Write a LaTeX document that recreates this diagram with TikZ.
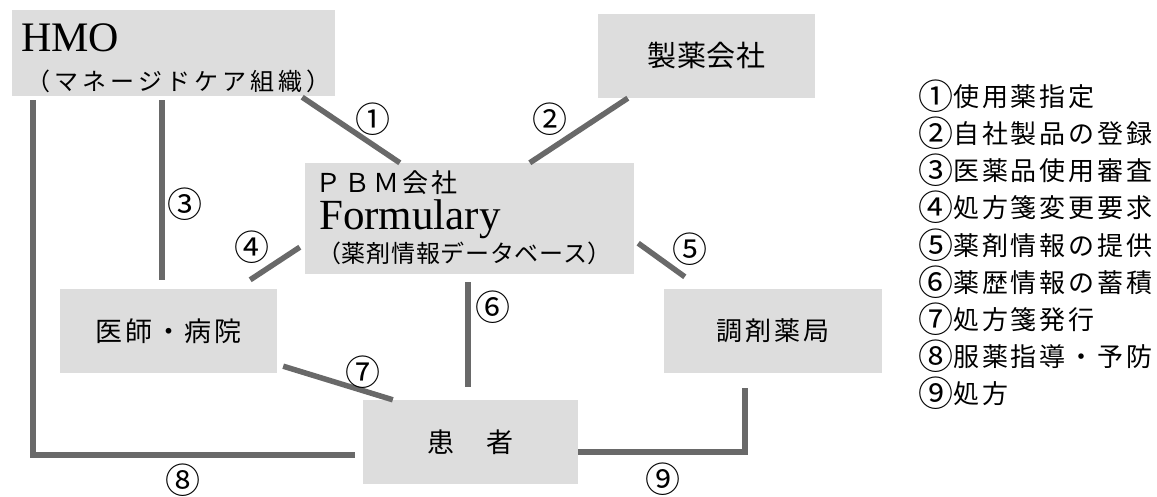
\documentclass[tikz,border=0pt]{standalone}
\usepackage{fontspec}
\setmainfont{Liberation Serif}
\newfontfamily\jp{Noto Sans CJK JP}
\usetikzlibrary{calc}
\definecolor{boxgray}{RGB}{221,221,221}
\definecolor{linegray}{RGB}{105,105,105}
\newcommand\cnum[1]{\raisebox{-3pt}{\fontsize{35}{35}\selectfont #1}}
\begin{document}
\begin{tikzpicture}[x=1pt,y=-1pt,
  box/.style={fill=boxgray, draw=none, inner sep=0pt},
  conn/.style={draw=linegray, line width=5.5pt},
  lbl/.style={inner sep=0pt, font=\jp\fontsize{35}{35}\selectfont},
  leg/.style={inner sep=0pt, anchor=base west, font=\jp\fontsize{26}{26}\selectfont\addfontfeature{LetterSpace=11}},
  jptxt/.style 2 args={inner sep=0pt, font=\jp\fontsize{#1}{#1}\selectfont\addfontfeature{LetterSpace=#2}}
]
\useasboundingbox (0,0) rectangle (1157,497);
% boxes
\node[box, minimum width=323pt, minimum height=86pt] (hmo) at (173.5,53) {};
\node[box, minimum width=217pt, minimum height=84pt, jptxt={29}{2}] (mfr) at (706.5,56) {製薬会社};
\node[box, minimum width=329pt, minimum height=111pt] (pbm) at (469.5,218.5) {};
\node[box, minimum width=217pt, minimum height=84pt, jptxt={27}{10}] (doc) at (168.5,331) {医師・病院};
\node[box, minimum width=218pt, minimum height=84pt, jptxt={26}{12}] (phar) at (773,331) {調剤薬局};
\node[box, minimum width=215pt, minimum height=84pt, jptxt={27}{0}] (pat) at (470.5,442) {患\hspace{33pt}者};
% texts inside boxes
\node[inner sep=0pt, anchor=base west, font=\fontsize{42}{42}\selectfont] (hmot) at (21,52) {HMO};
\node[jptxt={24}{17}, anchor=west] (hmos) at (26,81) {（マネージドケア組織）};
\node[jptxt={26}{12}, anchor=west] (pbmt) at (315,183) {ＰＢＭ会社};
\node[inner sep=0pt, anchor=base west, font=\fontsize{43}{43}\selectfont] (form) at (319,230) {Formulary};
\node[jptxt={24}{3}, anchor=west] (pbms) at (317,253) {（薬剤情報データベース）};
% connectors
\draw[conn] ($(hmo.south east)+(-33,1)$) -- ($(pbm.north west)+(95,0)$);
\draw[conn] ($(mfr.south west)+(30,0)$) -- ($(pbm.north west)+(225,0)$);
\draw[conn] ($(hmo.south west)+(150,4)$) -- ($(doc.north west)+(102,-9)$);
\draw[conn] ($(pbm.south west)+(-5,-27)$) -- ($(doc.north east)+(-27,-9)$);
\draw[conn] ($(pbm.south east)+(4,-31)$) -- ($(phar.north west)+(21,-12)$);
\draw[conn] ($(pbm.south west)+(163,8)$) -- ($(pat.north west)+(105,-13)$);
\draw[conn] ($(doc.south east)+(6,-7)$) -- ($(pat.north west)+(30,0)$);
\draw[conn] ($(hmo.south west)+(21,4)$) |- ($(pat.west)+(-8,13)$);
\draw[conn] ($(pat.east)+(0,10)$) -| ($(phar.south west)+(81,15)$);
% connector labels
\node[lbl] (n1) at (373,119) {①};
\node[lbl] (n2) at (550,119) {②};
\node[lbl] (n3) at (185,204) {③};
\node[lbl] (n4) at (252,247) {④};
\node[lbl] (n5) at (690,249) {⑤};
\node[lbl] (n6) at (493,307) {⑥};
\node[lbl] (n7) at (363,372) {⑦};
\node[lbl] (n8) at (183,480) {⑧};
\node[lbl] (n9) at (663,479) {⑨};
% legend
\node[leg] (l1) at (918,107) {\cnum{①}使用薬指定};
\node[leg] (l2) at (918,144) {\cnum{②}自社製品の登録};
\node[leg] (l3) at (918,181) {\cnum{③}医薬品使用審査};
\node[leg] (l4) at (918,218) {\cnum{④}処方箋変更要求};
\node[leg] (l5) at (918,255) {\cnum{⑤}薬剤情報の提供};
\node[leg] (l6) at (918,292) {\cnum{⑥}薬歴情報の蓄積};
\node[leg] (l7) at (918,329) {\cnum{⑦}処方箋発行};
\node[leg] (l8) at (918,366) {\cnum{⑧}服薬指導・予防};
\node[leg] (l9) at (918,403) {\cnum{⑨}処方};
\end{tikzpicture}
\end{document}
